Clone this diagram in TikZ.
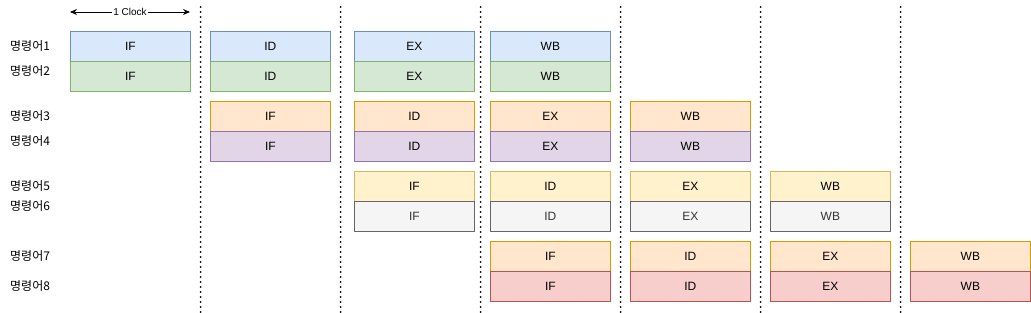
\documentclass[tikz,border=0pt]{standalone}
\usepackage{fontspec}
\setmainfont{Liberation Sans}
\newfontfamily\krfont{Noto Sans CJK KR}
\usetikzlibrary{arrows.meta}
\definecolor{blueF}{HTML}{DAE8FC}\definecolor{blueD}{HTML}{6C8EBF}
\definecolor{greenF}{HTML}{D5E8D4}\definecolor{greenD}{HTML}{82B366}
\definecolor{orangeF}{HTML}{FFE6CC}\definecolor{orangeD}{HTML}{D79B00}
\definecolor{purpleF}{HTML}{E1D5E7}\definecolor{purpleD}{HTML}{9673A6}
\definecolor{yellowF}{HTML}{FFF2CC}\definecolor{yellowD}{HTML}{D6B656}
\definecolor{grayF}{HTML}{F5F5F5}\definecolor{grayD}{HTML}{666666}
\definecolor{redF}{HTML}{F8CECC}\definecolor{redD}{HTML}{B85450}
\begin{document}
\begin{tikzpicture}[x=1pt,y=-1pt,>={Stealth[length=7pt,width=6pt]},
  stage/.style={draw,line width=0.8pt,minimum width=120pt,minimum height=30pt,inner sep=0pt,anchor=north west,font=\fontsize{12}{14}\selectfont},
  blu/.style={stage,fill=blueF,draw=blueD},
  grn/.style={stage,fill=greenF,draw=greenD},
  org/.style={stage,fill=orangeF,draw=orangeD},
  prp/.style={stage,fill=purpleF,draw=purpleD},
  ylw/.style={stage,fill=yellowF,draw=yellowD},
  gry/.style={stage,fill=grayF,draw=grayD,text=black!80},
  rdd/.style={stage,fill=redF,draw=redD},
  instr/.style={anchor=west,inner sep=0pt,font=\krfont\fontsize{12}{14}\selectfont},
  clockline/.style={line width=2pt,line cap=round,dash pattern=on 0pt off 5pt}]
\useasboundingbox (0,0) rectangle (1031,313);
% clock boundaries
\draw[clockline] (200.5,7) -- (200.5,313);
\draw[clockline] (340.5,7) -- (340.5,313);
\draw[clockline] (480.5,7) -- (480.5,313);
\draw[clockline] (620.5,7) -- (620.5,313);
\draw[clockline] (760.5,7) -- (760.5,313);
\draw[clockline] (900.5,7) -- (900.5,313);
% one clock
\coordinate (clkL) at (70,12);
\coordinate (clkR) at (190,12);
\draw[<->,line width=0.9pt] (clkL) -- node[fill=white,inner sep=1pt,font=\fontsize{10}{12}\selectfont]{1 Clock} (clkR);
% instruction labels
\node[instr] (lab1) at (10,46) {명령어1};
\node[instr] (lab2) at (10,71) {명령어2};
\node[instr] (lab3) at (10,116) {명령어3};
\node[instr] (lab4) at (10,141) {명령어4};
\node[instr] (lab5) at (10,186) {명령어5};
\node[instr] (lab6) at (10,206) {명령어6};
\node[instr] (lab7) at (10,256) {명령어7};
\node[instr] (lab8) at (10,286) {명령어8};
% instruction 1 and 2
\node[blu] (i1if) at (70,31) {IF};
\node[blu] (i1id) at (210,31) {ID};
\node[blu] (i1ex) at (354,31) {EX};
\node[blu] (i1wb) at (490,31) {WB};
\node[grn] (i2if) at (70,61) {IF};
\node[grn] (i2id) at (210,61) {ID};
\node[grn] (i2ex) at (354,61) {EX};
\node[grn] (i2wb) at (490,61) {WB};
% instruction 3 and 4
\node[org] (i3if) at (210,101) {IF};
\node[org] (i3id) at (354,101) {ID};
\node[org] (i3ex) at (490,101) {EX};
\node[org] (i3wb) at (630,101) {WB};
\node[prp] (i4if) at (210,131) {IF};
\node[prp] (i4id) at (354,131) {ID};
\node[prp] (i4ex) at (490,131) {EX};
\node[prp] (i4wb) at (630,131) {WB};
% instruction 5 and 6
\node[ylw] (i5if) at (354,171) {IF};
\node[ylw] (i5id) at (490,171) {ID};
\node[ylw] (i5ex) at (630,171) {EX};
\node[ylw] (i5wb) at (770,171) {WB};
\node[gry] (i6if) at (354,201) {IF};
\node[gry] (i6id) at (490,201) {ID};
\node[gry] (i6ex) at (630,201) {EX};
\node[gry] (i6wb) at (770,201) {WB};
% instruction 7 and 8
\node[org] (i7if) at (490,241) {IF};
\node[org] (i7id) at (630,241) {ID};
\node[org] (i7ex) at (770,241) {EX};
\node[org] (i7wb) at (910,241) {WB};
\node[rdd] (i8if) at (490,271) {IF};
\node[rdd] (i8id) at (630,271) {ID};
\node[rdd] (i8ex) at (770,271) {EX};
\node[rdd] (i8wb) at (910,271) {WB};
\end{tikzpicture}
\end{document}
